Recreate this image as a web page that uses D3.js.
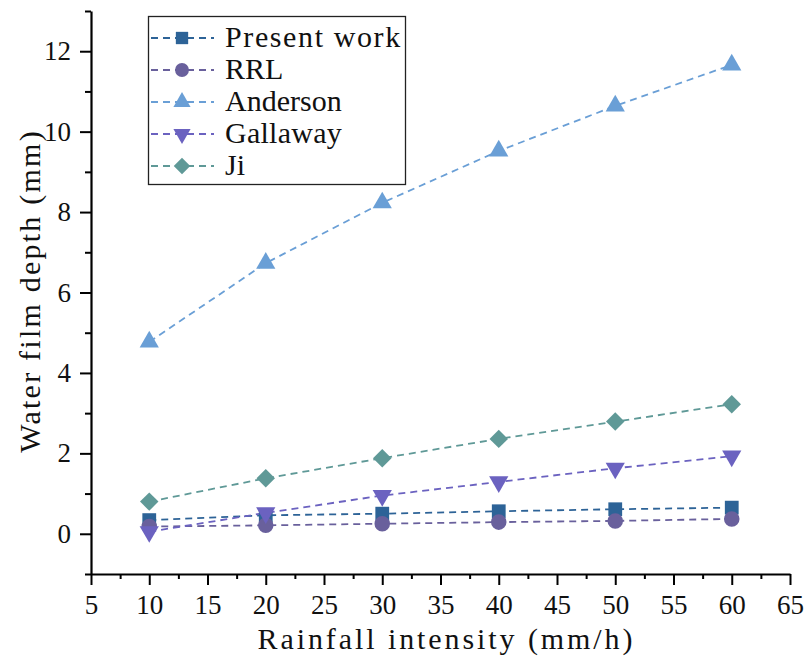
<!DOCTYPE html>
<html>
<head>
<meta charset="utf-8">
<script src="https://cdn.jsdelivr.net/npm/d3@7"></script>
<style>
  body { margin: 0; background: #fff; }
</style>
</head>
<body>
<script>
// data
const intensity = [10, 20, 30, 40, 50, 60];
const presentWork = [0.34, 0.46, 0.50, 0.56, 0.61, 0.65];
const rrl = [0.18, 0.21, 0.25, 0.29, 0.32, 0.37];
const anderson = [4.77, 6.73, 8.23, 9.52, 10.64, 11.66];
const gallaway = [0.05, 0.52, 0.95, 1.29, 1.63, 1.93];
const ji = [0.80, 1.38, 1.88, 2.36, 2.79, 3.22];
const seriesNames = ["Present work", "RRL", "Anderson", "Gallaway", "Ji"];
const xTicks = d3.range(5, 66, 5);
const yTicks = d3.range(0, 13, 2);

var FONT = "'Liberation Serif', 'DejaVu Serif', 'Times New Roman', serif";

const series = [
  {name: seriesNames[0], vals: presentWork, color: "#2d6397", sym: d3.symbolSquare, size: 190},
  {name: seriesNames[1], vals: rrl, color: "#69609c", sym: d3.symbolCircle, size: 190},
  {name: seriesNames[2], vals: anderson, color: "#6a9fd6", sym: d3.symbolTriangle, size: 160, rot: 0},
  {name: seriesNames[3], vals: gallaway, color: "#6b62c0", sym: d3.symbolTriangle, size: 160, rot: 180},
  {name: seriesNames[4], vals: ji, color: "#5f9997", sym: d3.symbolSquare, size: 170, rot: 45}
];

var width = 804, height = 657;
var margin = {top: 11, right: 14, bottom: 83, left: 91};

var svg = d3.select("body").append("svg")
    .attr("width", width)
    .attr("height", height);

var x = d3.scaleLinear().domain([5, 65]).range([margin.left, width - margin.right]);
var y = d3.scaleLinear().domain([-1, 13]).range([height - margin.bottom, margin.top]);

// stretch long labels a bit so they span the same width as the original
function styleText(sel, size, perChar) {
  sel.attr("font-family", FONT)
     .attr("font-size", size)
     .attr("fill", "#111")
     .each(function() {
       var t = d3.select(this);
       var target = t.text().length * perChar;
       if (t.text().length > 3 && this.getComputedTextLength() < target) {
         t.attr("textLength", target).attr("lengthAdjust", "spacing");
       }
     });
}

// x axis
var xAxis = svg.append("g")
    .attr("transform", "translate(0," + y(-1) + ")");
xAxis.append("g")
    .call(d3.axisBottom(x).tickValues(d3.range(7.5, 65, 5)).tickSize(5).tickFormat(""))
    .call(g => g.select(".domain").remove());
xAxis.append("g")
    .call(d3.axisBottom(x).tickValues(xTicks).tickSize(11).tickSizeOuter(0).tickPadding(10))
    .call(g => styleText(g.selectAll("text"), 27, 12.8));

// y axis
var yAxis = svg.append("g")
    .attr("transform", "translate(" + x(5) + ",0)");
yAxis.append("g")
    .call(d3.axisLeft(y).tickValues(d3.range(-1, 14, 2)).tickSize(6).tickFormat(""))
    .call(g => g.select(".domain").remove());
yAxis.append("g")
    .call(d3.axisLeft(y).tickValues(yTicks).tickSize(11).tickSizeOuter(0).tickPadding(9))
    .call(g => styleText(g.selectAll("text"), 27, 12.8));

svg.selectAll(".domain").attr("stroke", "#000").attr("stroke-width", 2.2);
svg.selectAll(".tick line").attr("stroke", "#000").attr("stroke-width", 2);

// axis titles
svg.append("text")
    .attr("x", 445).attr("y", 649)
    .attr("text-anchor", "middle")
    .text("Rainfall intensity (mm/h)")
    .call(s => styleText(s, 30, 15));

svg.append("text")
    .attr("transform", "translate(40,292) rotate(-90)")
    .attr("text-anchor", "middle")
    .text("Water film depth (mm)")
    .call(s => styleText(s, 30, 15.3));

// lines and markers
var line = d3.line().x((d, i) => x(intensity[i])).y(d => y(d));

series.forEach(function(s) {
  svg.append("path")
      .datum(s.vals)
      .attr("d", line)
      .attr("fill", "none")
      .attr("stroke", s.color)
      .attr("stroke-width", 1.8)
      .attr("stroke-dasharray", "7,5");
});

series.forEach(function(s) {
  svg.selectAll(null)
      .data(s.vals)
    .enter().append("path")
      .attr("d", d3.symbol().type(s.sym).size(s.size))
      .attr("transform", (d, i) => "translate(" + x(intensity[i]) + "," + y(d) + ")" + (s.rot ? " rotate(" + s.rot + ")" : ""))
      .attr("fill", s.color);
});

// legend
var legend = svg.append("g");
legend.append("rect")
    .attr("x", 148.5).attr("y", 16.5)
    .attr("width", 257).attr("height", 168)
    .attr("fill", "#fff")
    .attr("stroke", "#222").attr("stroke-width", 1.3);

series.forEach(function(s, i) {
  var ly = 38 + i * 32;
  legend.append("line")
      .attr("x1", 151).attr("x2", 214)
      .attr("y1", ly).attr("y2", ly)
      .attr("stroke", s.color).attr("stroke-width", 1.8)
      .attr("stroke-dasharray", "7,5");
  legend.append("path")
      .attr("d", d3.symbol().type(s.sym).size(s.size * 0.8))
      .attr("transform", "translate(182," + ly + ")" + (s.rot ? " rotate(" + s.rot + ")" : ""))
      .attr("fill", s.color);
  legend.append("text")
      .attr("x", 225).attr("y", ly + 9)
      .text(s.name)
      .call(t => styleText(t, 30, 14.6));
});
</script>
</body>
</html>
